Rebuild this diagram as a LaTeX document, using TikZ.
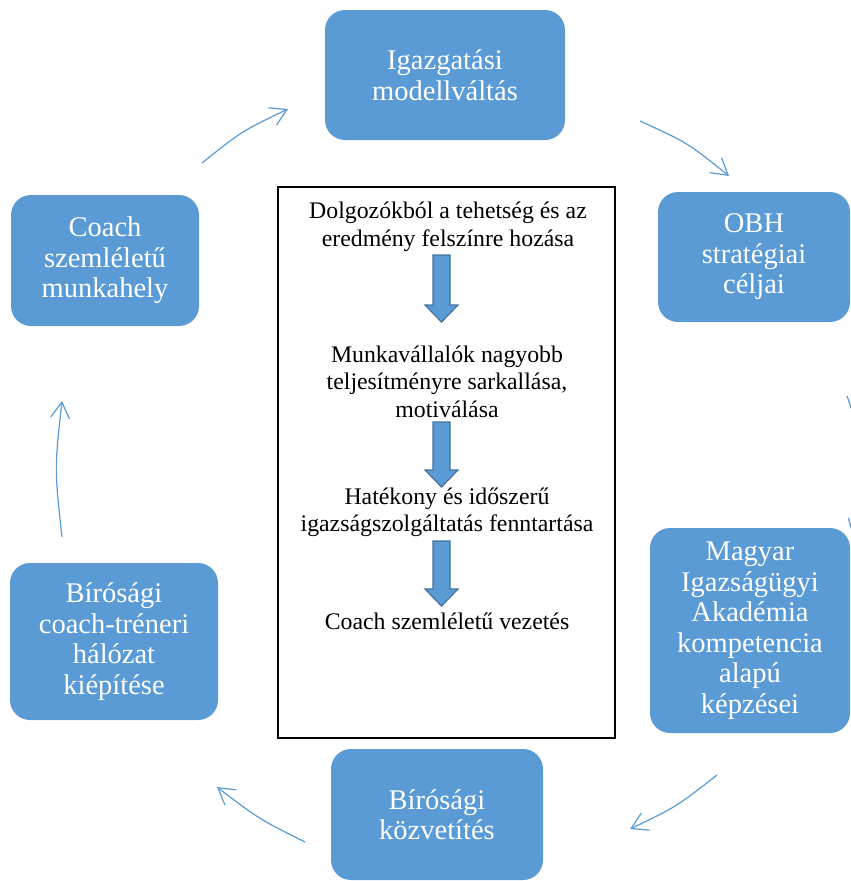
\documentclass[tikz,border=0pt]{standalone}
\usepackage{fontspec}
\setmainfont{Liberation Serif}
\usetikzlibrary{arrows.meta}
\definecolor{boxblue}{HTML}{5B9BD5}
\definecolor{boxedge}{HTML}{41719C}
\tikzset{
  cyclebox/.style={fill=boxblue, text=white,
    rounded corners=20pt, inner sep=0pt, align=center,
    font=\fontsize{28.5}{30.5}\selectfont},
  flowtext/.style={align=center, inner sep=0pt,
    font=\fontsize{23.8}{27.5}\selectfont},
  cyclearrow/.style={draw=boxblue, line width=1.2pt,
    -{Straight Barb[length=16pt,width=19pt,line width=1.2pt]}},
  downarrow/.pic={
    \draw[fill=boxblue, draw=boxedge, line width=1.2pt]
      (-8.5,0) -- (8.5,0) -- (8.5,#1-17) -- (16.5,#1-17) -- (0,#1)
      -- (-16.5,#1-17) -- (-8.5,#1-17) -- cycle;}
}
\begin{document}
\begin{tikzpicture}[x=1pt,y=-1pt]
\useasboundingbox (0,0) rectangle (851,881);
\clip (0,0) rectangle (851,881);

% central frame with the chain of goals
\node[draw=black, line width=1.4pt, minimum width=337pt, minimum height=551pt,
      inner sep=0pt] (frame) at (446.5,462.5) {};
\node[flowtext] (t1) at (448,227) {Dolgozókból a tehetség és az\\eredmény felszínre hozása};
\node[flowtext] (t2) at (447,381.5) {Munkavállalók nagyobb\\teljesítményre sarkallása,\\motiválása};
\node[flowtext] (t3) at (447,512.5) {Hatékony és időszerű\\igazságszolgáltatás fenntartása};
\node[flowtext] (t4) at (447,621) {Coach szemléletű vezetés};
\pic at (441.5,255) {downarrow=67};
\pic at (441.5,422) {downarrow=65};
\pic at (441.5,541) {downarrow=65};

% boxes of the cycle
\node[cyclebox, minimum width=240pt, minimum height=130pt] (ig) at (445,75)
  {Igazgatási\\modellváltás};
\node[cyclebox, minimum width=192pt, minimum height=130pt] (obh) at (754,257)
  {OBH\\stratégiai\\céljai};
\node[cyclebox, minimum width=200pt, minimum height=205pt] (mia) at (750,630.5)
  {Magyar\\Igazságügyi\\Akadémia\\kompetencia\\alapú\\képzései};
\node[cyclebox, minimum width=212pt, minimum height=131pt] (bk) at (437,814.5)
  {Bírósági\\közvetítés};
\node[cyclebox, minimum width=208pt, minimum height=157pt] (bh) at (114,641.5)
  {Bírósági\\coach-tréneri\\hálózat\\kiépítése};
\node[cyclebox, minimum width=188pt, minimum height=131pt] (cm) at (105,260.5)
  {Coach\\szemléletű\\munkahely};

% end points of the curved cycle arrows
\coordinate (a1s) at (202,163);  \coordinate (a1e) at (288,109);
\coordinate (a2s) at (640,121);  \coordinate (a2e) at (729,176);
\coordinate (a3s) at (847,396);  \coordinate (a3e) at (853,537);
\coordinate (a4s) at (717,775);  \coordinate (a4e) at (630,829);
\coordinate (a5s) at (305,842);  \coordinate (a5e) at (217,787);
\coordinate (a6s) at (62,537);   \coordinate (a6e) at (62,401);

\draw[cyclearrow] (a1s) .. controls (242,131) .. (a1e);
\draw[cyclearrow] (a2s) .. controls (688,143) .. (a2e);
\draw[cyclearrow] (a3s) .. controls (872,467) .. (a3e);
\draw[cyclearrow] (a4s) .. controls (676,807) .. (a4e);
\draw[cyclearrow] (a5s) .. controls (259,819) .. (a5e);
\draw[cyclearrow] (a6s) .. controls (54.5,469) .. (a6e);
\end{tikzpicture}
\end{document}
